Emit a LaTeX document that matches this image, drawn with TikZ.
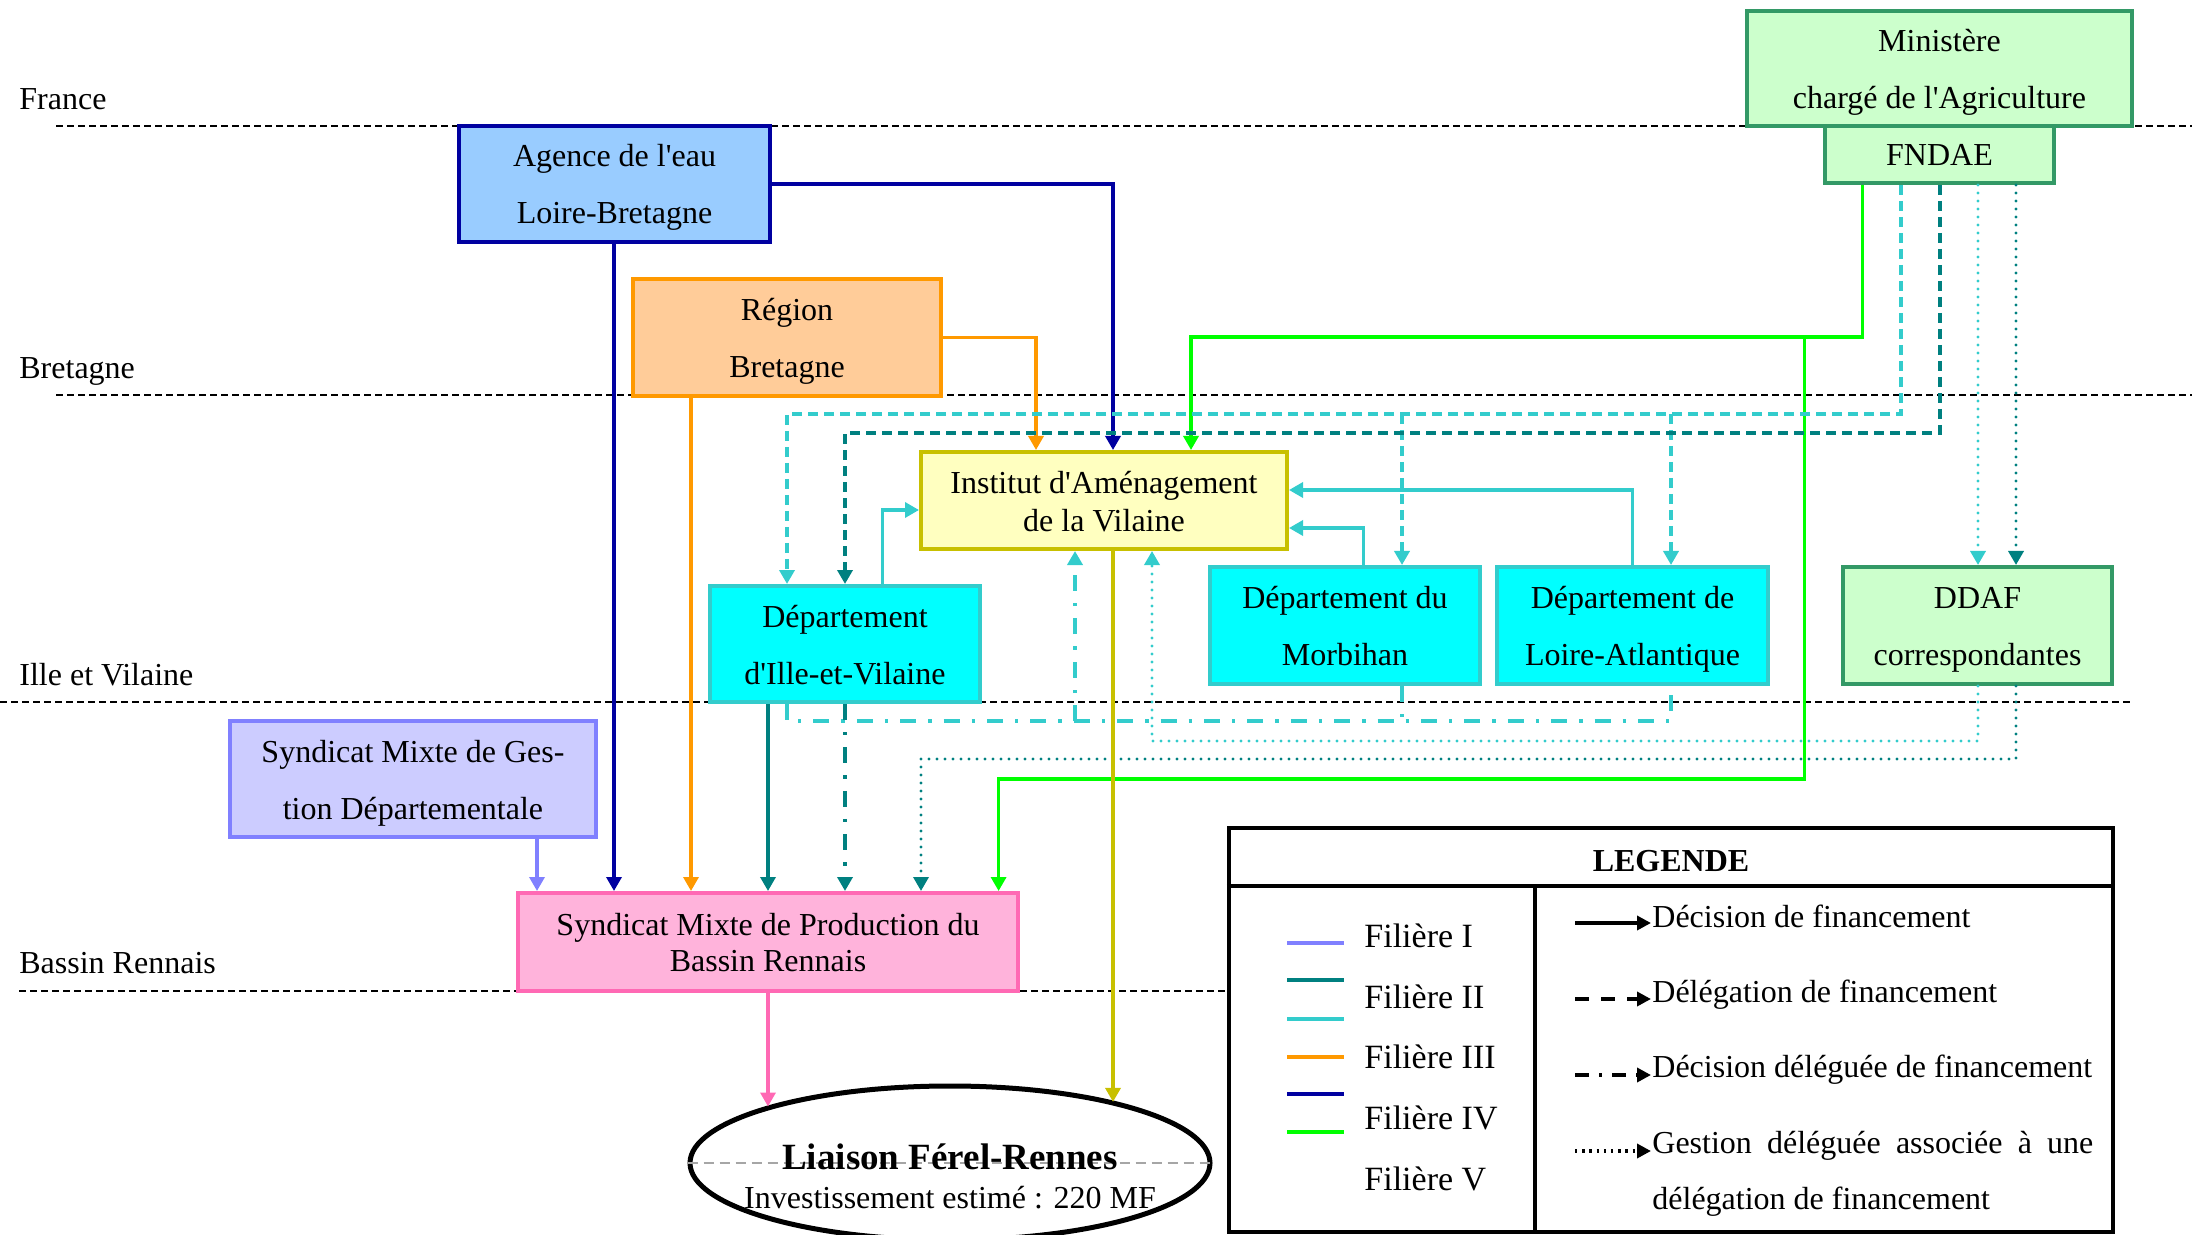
\documentclass[tikz,border=0pt]{standalone}
\usepackage{fontspec}
\setmainfont{Liberation Serif}
\usetikzlibrary{arrows.meta,shapes.geometric}
\definecolor{cI}{HTML}{8080FF}
\definecolor{cII}{HTML}{008080}
\definecolor{cIIl}{HTML}{33CCCC}
\definecolor{cIII}{HTML}{FF9900}
\definecolor{cIV}{HTML}{0000A0}
\definecolor{cV}{HTML}{00FF00}
\definecolor{cY}{HTML}{C8C000}
\definecolor{cPk}{HTML}{FF69B4}
\definecolor{fPk}{HTML}{FFB3DB}
\definecolor{cSG}{HTML}{339966}
\definecolor{fG}{HTML}{CCFFCC}
\definecolor{fBl}{HTML}{99CCFF}
\definecolor{fOr}{HTML}{FFCC99}
\definecolor{fYe}{HTML}{FFFFC0}
\definecolor{fCy}{HTML}{00FFFF}
\definecolor{fLa}{HTML}{CCCCFF}
\newcommand\topstr{\rule{0pt}{15.5pt}}
\newcommand\botstr{\rule[-4pt]{0pt}{4pt}}
\begin{document}
\begin{tikzpicture}[x=0.5pt,y=-0.5pt,
  bx/.style={draw,line width=2pt,inner sep=0pt,align=center,font=\fontsize{16}{28.5}\selectfont},
  conn/.style={line width=1.7pt},
  arr/.style={conn,-{Triangle[length=7pt,width=7.5pt]}},
  dsh/.style={line width=2pt,dash pattern=on 5pt off 3pt},
  dshdot/.style={line width=2pt,dash pattern=on 8pt off 6pt on 1.7pt off 6pt},
  dtt/.style={line width=1.7pt,line cap=round,dash pattern=on 0pt off 4pt},
  zone/.style={line width=1.3pt,dash pattern=on 3.3pt off 2.2pt},
  zonelbl/.style={anchor=base west,inner sep=0pt,font=\fontsize{16}{19}\selectfont},
  legtxt/.style={anchor=base west,inner sep=0pt,font=\fontsize{16}{19}\selectfont},
  filtxt/.style={anchor=base west,inner sep=0pt,font=\fontsize{17}{20}\selectfont},
  legarr/.style={line width=2pt,-{Triangle[length=7pt,width=7pt]}},
]
\useasboundingbox (0,0) rectangle (2196,1235);

% zone separators
\draw[zone] (56,126) -- (2192,126);
\draw[zone] (56,395) -- (2192,395);
\draw[zone] (0,702) -- (2131,702);
\draw[zone] (19,991) -- (1229,991);
\node[zonelbl] (lfr) at (19,109.5) {France};
\node[zonelbl] (lbr) at (19,378.5) {Bretagne};
\node[zonelbl] (liv) at (19,685) {Ille et Vilaine};
\node[zonelbl] (lbrn) at (19,973) {Bassin Rennais};

% boxes
\node[bx,draw=cSG,fill=fG,minimum width=192.5pt,minimum height=57.5pt] (ministere) at (1939.5,68.5) {\topstr Ministère\\chargé de l\textquotesingle Agriculture\botstr};
\node[bx,draw=cSG,fill=fG,minimum width=114.5pt,minimum height=28.5pt] (fndae) at (1939.5,154.5) {\topstr FNDAE\botstr};
\node[bx,draw=cIV,fill=fBl,minimum width=155.5pt,minimum height=58pt] (agence) at (614.5,184) {\topstr Agence de l\textquotesingle eau\\Loire-Bretagne\botstr};
\node[bx,draw=cIII,fill=fOr,minimum width=154pt,minimum height=58.5pt] (region) at (787,337.5) {\topstr Région\\Bretagne\botstr};
\node[bx,draw=cY,fill=fYe,minimum width=183pt,minimum height=48.5pt,font=\fontsize{16}{19}\selectfont] (institut) at (1104,500.5) {\topstr Institut d\textquotesingle Aménagement\\de la Vilaine\botstr};
\node[bx,draw=cIIl,fill=fCy,minimum width=135pt,minimum height=58pt] (dptiv) at (845,644) {\topstr Département\\d\textquotesingle Ille-et-Vilaine\botstr};
\node[bx,draw=cIIl,fill=fCy,minimum width=135pt,minimum height=58.5pt] (morbihan) at (1345,625.5) {\topstr Département du\\Morbihan\botstr};
\node[bx,draw=cIIl,fill=fCy,minimum width=135.5pt,minimum height=58.5pt] (loireatl) at (1632.5,625.5) {\topstr Département de\\Loire-Atlantique\botstr};
\node[bx,draw=cSG,fill=fG,minimum width=134.5pt,minimum height=58.5pt] (ddaf) at (1977.5,625.5) {\topstr DDAF\\correspondantes\botstr};
\node[bx,draw=cI,fill=fLa,minimum width=183pt,minimum height=58pt] (smgd) at (413,779) {\topstr Syndicat Mixte de Ges-\\tion Départementale\botstr};
\node[bx,draw=cPk,fill=fPk,minimum width=250pt,minimum height=49pt,font=\fontsize{16}{18}\selectfont] (smpbr) at (768,942) {\topstr Syndicat Mixte de Production du\\Bassin Rennais\botstr};
\node[draw,ellipse,line width=2.5pt,fill=white,minimum width=260pt,minimum height=77pt,inner sep=0pt] (liaison) at (950,1163) {};
\draw[gray!70,line width=1pt,dash pattern=on 5pt off 3pt] (liaison.west) -- (liaison.east);
\node[anchor=base,inner sep=0pt,font=\bfseries\fontsize{18.5}{20}\selectfont] (ltitle) at (950,1169) {Liaison Férel-Rennes};
\node[anchor=base,inner sep=0pt,font=\fontsize{16}{20}\selectfont] (linv) at (950,1208) {Investissement estimé : 220 MF};

% branch coordinates
\coordinate (gsplit) at (1804.5,337);
\coordinate (cdM) at (1402,414);
\coordinate (cdL) at (1671,414);
\coordinate (ddj) at (1075,721);
\coordinate (ddM) at (1402,721);

% Filiere IV (Agence)
\draw[arr,cIV] (agence.east) -| (1113,0 |- institut.north);
\draw[arr,cIV] (614,0 |- agence.south) -- (614,0 |- smpbr.north);
% Filiere III (Region)
\draw[arr,cIII] (region.east) -| (1036,0 |- institut.north);
\draw[arr,cIII] (691,0 |- region.south) -- (691,0 |- smpbr.north);
% green (FNDAE)
\draw[arr,cV] (1862.6,0 |- fndae.south) -- (1862.6,337) -| (1191,0 |- institut.north);
\draw[arr,cV] (gsplit) -- (1804.5,779) -| (998.6,0 |- smpbr.north);
% FNDAE delegations (dashed)
\draw[arr,cIIl,dsh] (1901,0 |- fndae.south) -- (1901,414) -| (787,0 |- dptiv.north);
\draw[arr,cIIl,dsh] (cdM) -- (cdM |- morbihan.north);
\draw[arr,cIIl,dsh] (cdL) -- (cdL |- loireatl.north);
\draw[arr,cII,dsh] (fndae.south) -- (1939.5,433) -| (dptiv.north);
% FNDAE -> DDAF (dotted)
\draw[arr,cIIl,dtt] (1978,0 |- fndae.south) -- (1978,0 |- ddaf.north);
\draw[arr,cII,dtt] (2016,0 |- fndae.south) -- (2016,0 |- ddaf.north);
% departments -> Institut (solid cyan)
\draw[arr,cIIl] (882.5,0 |- dptiv.north) |- (institut.west |- 0,510);
\draw[arr,cIIl] (1363.5,0 |- morbihan.north) |- (institut.east |- 0,528);
\draw[arr,cIIl] (1632.6,0 |- loireatl.north) |- (institut.east |- 0,490);
% departments -> Institut (dash-dot cyan)
\draw[cIIl,dshdot] (787,0 |- dptiv.south) -- (787,721) -- (1671,721) -- (1671,0 |- loireatl.south);
\draw[cIIl,dshdot] (1402,0 |- morbihan.south) -- (ddM);
\draw[cIIl,dshdot,-{Triangle[length=7pt,width=7.5pt]}] (ddj) -- (ddj |- institut.south);
% DDAF -> Institut (dotted cyan), DDAF -> SMPBR (dotted teal)
\draw[arr,cIIl,dtt] (1978,0 |- ddaf.south) -- (1978,741) -| (1152,0 |- institut.south);
\draw[arr,cII,dtt] (2016,0 |- ddaf.south) -- (2016,759) -| (921,0 |- smpbr.north);
% Dept I&V -> SMPBR
\draw[arr,cII] (768,0 |- dptiv.south) -- (768,0 |- smpbr.north);
\draw[cII,dshdot,-{Triangle[length=7pt,width=7.5pt]}] (dptiv.south) -- (dptiv.south |- smpbr.north);
% SMGD -> SMPBR
\draw[arr,cI] (537,0 |- smgd.south) -- (537,0 |- smpbr.north);
% to Liaison
\draw[arr,cPk] (smpbr.south) -- (smpbr.south |- liaison.163);
\draw[arr,cY,line width=2pt] (1113,0 |- institut.south) -- (1113,0 |- liaison.20);

% legend
\node[draw,line width=2.2pt,minimum width=442pt,minimum height=202pt,inner sep=0pt] (legend) at (1671,1030) {};
\draw[line width=2pt] (legend.west |- 0,886) -- (legend.east |- 0,886);
\draw[line width=2pt] (1535,886) -- (1535,0 |- legend.south);
\node[inner sep=0pt,font=\bfseries\fontsize{16}{19}\selectfont] (legtitle) at (1671,861) {LEGENDE};
\draw[line width=1.6pt,cI] (1287,943) -- (1344,943);
\draw[line width=1.6pt,cII] (1287,980) -- (1344,980);
\draw[line width=1.6pt,cIIl] (1287,1019) -- (1344,1019);
\draw[line width=1.6pt,cIII] (1287,1057) -- (1344,1057);
\draw[line width=1.6pt,cIV] (1287,1094) -- (1344,1094);
\draw[line width=1.6pt,cV] (1287,1132) -- (1344,1132);
\node[filtxt] (f1) at (1364,947) {Filière I};
\node[filtxt] (f2) at (1364,1008) {Filière II};
\node[filtxt] (f3) at (1364,1068) {Filière III};
\node[filtxt] (f4) at (1364,1129) {Filière IV};
\node[filtxt] (f5) at (1364,1190) {Filière V};
\draw[legarr] (1575,923) -- (1651,923);
\draw[legarr,dash pattern=on 7pt off 6pt] (1575,999) -- (1651,999);
\draw[legarr,dash pattern=on 7pt off 5pt on 1.5pt off 5pt] (1575,1075) -- (1651,1075);
\draw[legarr,dash pattern=on 1.2pt off 2.4pt] (1575,1151) -- (1651,1151);
\node[legtxt] (d1) at (1652,927) {Décision de financement};
\node[legtxt] (d2) at (1652,1002) {Délégation de financement};
\node[legtxt] (d3) at (1652,1077) {Décision déléguée de financement};
\node[legtxt] (d4) at (1652,1153) {\makebox[220.5pt][s]{Gestion déléguée associée à une}};
\node[legtxt] (d5) at (1652,1209) {délégation de financement};
\end{tikzpicture}
\end{document}
